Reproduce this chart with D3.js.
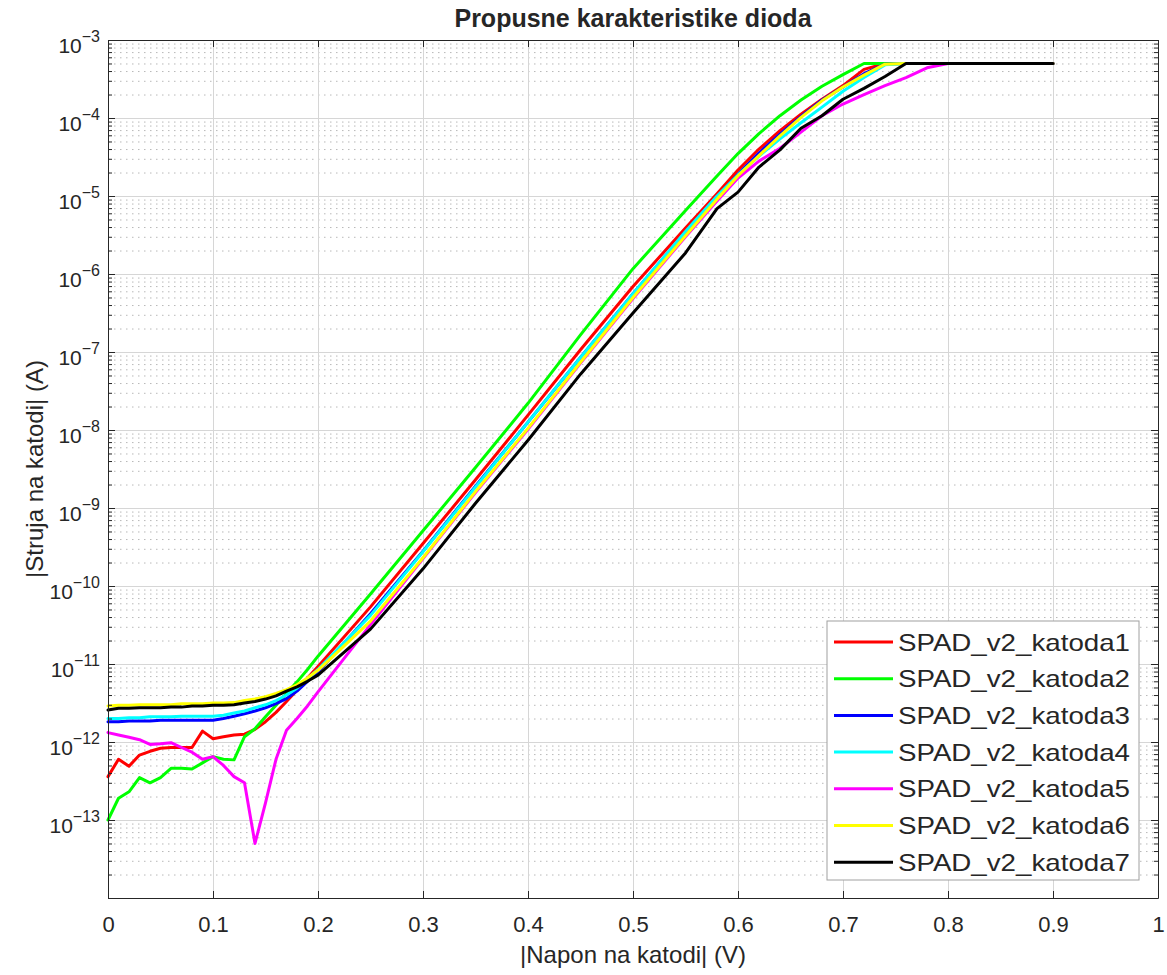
<!DOCTYPE html>
<html><head><meta charset="utf-8">
<script src="https://cdn.jsdelivr.net/npm/d3@7"></script>
<style>
body{margin:0;background:#fff}
text{font-family:"Liberation Sans",Arial,Helvetica,sans-serif;fill:#262626}
</style>
</head><body>
<svg id="chart" width="1167" height="975"></svg>
<script>
// ---- data ----
const voltage = [0,0.01,0.02,0.03,0.04,0.05,0.06,0.07,0.08,0.09,0.10,0.11,0.12,0.13,0.14,0.15,0.16,0.17,0.18,0.19,0.20,
  0.25,0.30,0.35,0.40,0.45,0.50,0.55,0.58,0.60,0.62,0.64,0.66,0.68,0.70,0.72,0.74,0.76,0.78,0.80,0.85,0.90];

const katoda1 = [3.6e-13,6.0e-13,4.9e-13,6.8e-13,7.6e-13,8.3e-13,8.5e-13,8.5e-13,8.5e-13,1.38e-12,1.10e-12,1.17e-12,1.23e-12,1.26e-12,1.45e-12,1.82e-12,2.4e-12,3.3e-12,4.6e-12,6.6e-12,9.3e-12,
  5.4e-11,3.5e-10,2.3e-9,1.55e-8,1.07e-7,6.9e-7,3.9e-6,1.07e-5,2.15e-5,4.0e-5,6.9e-5,1.12e-4,1.74e-4,2.6e-4,4.2e-4,5e-4,5e-4,5e-4,5e-4,5e-4,5e-4];
const katoda2 = [1.0e-13,1.9e-13,2.3e-13,3.5e-13,3.0e-13,3.5e-13,4.6e-13,4.6e-13,4.5e-13,5.4e-13,6.5e-13,6.0e-13,5.9e-13,1.17e-12,1.48e-12,2.1e-12,2.95e-12,4.2e-12,5.9e-12,8.5e-12,1.26e-11,
  7.9e-11,5.1e-10,3.3e-9,2.2e-8,1.66e-7,1.17e-6,6.5e-6,1.8e-5,3.5e-5,6.3e-5,1.07e-4,1.70e-4,2.55e-4,3.6e-4,5e-4,5e-4,5e-4,5e-4,5e-4,5e-4,5e-4];
const katoda3 = [1.82e-12,1.82e-12,1.86e-12,1.86e-12,1.86e-12,1.9e-12,1.9e-12,1.9e-12,1.9e-12,1.9e-12,1.9e-12,2.0e-12,2.14e-12,2.3e-12,2.5e-12,2.75e-12,3.1e-12,3.6e-12,4.5e-12,6.0e-12,7.9e-12,
  4.4e-11,2.8e-10,1.9e-9,1.26e-8,8.5e-8,5.6e-7,3.4e-6,9.5e-6,1.9e-5,3.55e-5,6.2e-5,1.05e-4,1.7e-4,2.5e-4,3.7e-4,4.9e-4,5e-4,5e-4,5e-4,5e-4,5e-4];
const katoda4 = [2.0e-12,2.0e-12,2.04e-12,2.04e-12,2.1e-12,2.1e-12,2.1e-12,2.14e-12,2.14e-12,2.14e-12,2.14e-12,2.2e-12,2.35e-12,2.5e-12,2.75e-12,3.0e-12,3.4e-12,4.0e-12,4.9e-12,6.5e-12,8.5e-12,
  4.2e-11,2.75e-10,1.86e-9,1.26e-8,8.5e-8,5.6e-7,3.5e-6,1.0e-5,1.86e-5,3.25e-5,5.4e-5,8.7e-5,1.38e-4,2.2e-4,3.3e-4,4.8e-4,5e-4,5e-4,5e-4,5e-4,5e-4];
const katoda5 = [1.32e-12,1.23e-12,1.15e-12,1.07e-12,9.3e-13,9.5e-13,9.8e-13,8.5e-13,7.4e-13,6.0e-13,6.5e-13,5.0e-13,3.6e-13,3.0e-13,5.0e-14,1.66e-13,6.0e-13,1.41e-12,2.0e-12,2.9e-12,4.4e-12,
  3.2e-11,2.25e-10,1.58e-9,1.02e-8,7.2e-8,4.85e-7,3.0e-6,8.6e-6,1.7e-5,2.8e-5,4.1e-5,6.6e-5,1.07e-4,1.51e-4,2.0e-4,2.6e-4,3.3e-4,4.4e-4,5e-4,5e-4,5e-4];
const katoda6 = [2.9e-12,2.95e-12,2.95e-12,3.0e-12,3.0e-12,3.0e-12,3.0e-12,3.1e-12,3.1e-12,3.1e-12,3.16e-12,3.16e-12,3.2e-12,3.4e-12,3.55e-12,3.8e-12,4.2e-12,4.7e-12,5.4e-12,6.6e-12,8.3e-12,
  3.55e-11,2.3e-10,1.62e-9,1.05e-8,7.4e-8,5.0e-7,3.1e-6,9.1e-6,1.82e-5,3.3e-5,5.9e-5,1.02e-4,1.66e-4,2.5e-4,3.55e-4,4.9e-4,5e-4,5e-4,5e-4,5e-4,5e-4];
const katoda7 = [2.57e-12,2.7e-12,2.7e-12,2.75e-12,2.75e-12,2.75e-12,2.8e-12,2.8e-12,2.9e-12,2.9e-12,2.95e-12,2.95e-12,3.0e-12,3.16e-12,3.3e-12,3.55e-12,3.9e-12,4.5e-12,5.1e-12,6.0e-12,7.2e-12,
  2.8e-11,1.66e-10,1.15e-9,7.4e-9,5.2e-8,3.16e-7,1.86e-6,6.9e-6,1.12e-5,2.35e-5,3.9e-5,7.4e-5,1.07e-4,1.74e-4,2.4e-4,3.4e-4,5e-4,5e-4,5e-4,5e-4,5e-4];

const seriesNames = ["SPAD_v2_katoda1","SPAD_v2_katoda2","SPAD_v2_katoda3","SPAD_v2_katoda4","SPAD_v2_katoda5","SPAD_v2_katoda6","SPAD_v2_katoda7"];
const seriesValues = [katoda1,katoda2,katoda3,katoda4,katoda5,katoda6,katoda7];
const seriesColors = ["#ff0000","#00ff00","#0000ff","#00ffff","#ff00ff","#ffff00","#000000"];

const xTicks = [0,0.1,0.2,0.3,0.4,0.5,0.6,0.7,0.8,0.9,1];
const xTickLabels = ["0","0.1","0.2","0.3","0.4","0.5","0.6","0.7","0.8","0.9","1"];
const yTickExponents = [-3,-4,-5,-6,-7,-8,-9,-10,-11,-12,-13];

const titleText = "Propusne karakteristike dioda";
const xLabel = "|Napon na katodi| (V)";
const yLabel = "|Struja na katodi| (A)";

// ---- layout ----
const W = 1167, H = 975;
const L = 108, R = 1158, T = 40, B = 898;
const x = d3.scaleLinear().domain([0, 1]).range([L, R]);
const y = d3.scaleLog().domain([1e-14, 1e-3]).range([B, T]);

const svg = d3.select("#chart");
svg.append("rect").attr("width", W).attr("height", H).attr("fill", "#fff");

const majorY = d3.range(-14, -2).map(e => Math.pow(10, e));
const minorY = [];
d3.range(-14, -3).forEach(e => { for (let k = 2; k <= 9; k++) minorY.push(k * Math.pow(10, e)); });

// grid
const grid = svg.append("g");
grid.append("g").attr("transform", `translate(${L},0)`)
  .call(d3.axisLeft(y).tickValues(minorY).tickSize(-(R - L)).tickFormat(""))
  .call(g => g.select(".domain").remove())
  .selectAll("line").attr("stroke", "#b8b8b8").attr("stroke-width", 1).attr("stroke-dasharray", "1.5,4.5");
grid.append("g").attr("transform", `translate(${L},0)`)
  .call(d3.axisLeft(y).tickValues(majorY).tickSize(-(R - L)).tickFormat(""))
  .call(g => g.select(".domain").remove())
  .selectAll("line").attr("stroke", "#d6d6d6").attr("stroke-width", 1);
grid.append("g").attr("transform", `translate(0,${B})`)
  .call(d3.axisBottom(x).tickValues(xTicks).tickSize(-(B - T)).tickFormat(""))
  .call(g => g.select(".domain").remove())
  .selectAll("line").attr("stroke", "#d6d6d6").attr("stroke-width", 1);

// curves
const line = d3.line().x((d, i) => x(voltage[i])).y(d => y(d));
seriesValues.forEach((vals, s) => {
  svg.append("path").datum(vals)
    .attr("fill", "none").attr("stroke", seriesColors[s]).attr("stroke-width", 3)
    .attr("stroke-linejoin", "round").attr("stroke-linecap", "round")
    .attr("d", line);
});

// axes (ticks inward)
const axisColor = "#262626";
function styleAxis(g) {
  g.select(".domain").attr("stroke", axisColor);
  g.selectAll(".tick line").attr("stroke", axisColor);
}
svg.append("g").attr("transform", `translate(0,${B})`)
  .call(d3.axisBottom(x).tickValues(xTicks).tickSize(-7).tickSizeOuter(0).tickPadding(18)
    .tickFormat((d, i) => xTickLabels[i]))
  .call(styleAxis)
  .call(g => g.selectAll("text").attr("font-size", 22).attr("fill", axisColor)
    .attr("font-family", '"Liberation Sans",Arial,sans-serif'));
svg.append("g").attr("transform", `translate(0,${T})`)
  .call(d3.axisTop(x).tickValues(xTicks).tickSize(-7).tickSizeOuter(0).tickFormat(""))
  .call(styleAxis);
svg.append("g").attr("transform", `translate(${L},0)`)
  .call(d3.axisLeft(y).tickValues(majorY).tickSize(-7).tickSizeOuter(0).tickFormat(""))
  .call(styleAxis);
svg.append("g").attr("transform", `translate(${L},0)`)
  .call(d3.axisLeft(y).tickValues(minorY).tickSize(-4).tickSizeOuter(0).tickFormat(""))
  .call(g => g.select(".domain").remove())
  .call(styleAxis);
svg.append("g").attr("transform", `translate(${R},0)`)
  .call(d3.axisRight(y).tickValues(majorY).tickSize(-7).tickSizeOuter(0).tickFormat(""))
  .call(styleAxis);
svg.append("g").attr("transform", `translate(${R},0)`)
  .call(d3.axisRight(y).tickValues(minorY).tickSize(-4).tickSizeOuter(0).tickFormat(""))
  .call(g => g.select(".domain").remove())
  .call(styleAxis);

// y tick labels with superscripts
const yl = svg.append("g");
yTickExponents.forEach(e => {
  const t = yl.append("text").attr("x", L - 8).attr("y", y(Math.pow(10, e)) + 13)
    .attr("text-anchor", "end").attr("font-size", 21);
  t.append("tspan").text("10");
  t.append("tspan").attr("font-size", 16).attr("dy", -11).text("\u2212" + Math.abs(e));
});

// titles
svg.append("text").attr("x", (L + R) / 2).attr("y", 27).attr("text-anchor", "middle")
  .attr("font-size", 25).attr("font-weight", "bold").attr("fill", "#000").text(titleText);
svg.append("text").attr("x", (L + R) / 2).attr("y", 963).attr("text-anchor", "middle")
  .attr("font-size", 24).text(xLabel);
svg.append("text").attr("transform", `translate(43,${(T + B) / 2}) rotate(-90)`).attr("text-anchor", "middle")
  .attr("font-size", 24).text(yLabel);

// legend
const lg = svg.append("g");
lg.append("rect").attr("x", 827).attr("y", 621).attr("width", 312).attr("height", 259)
  .attr("fill", "#fff").attr("stroke", "#a0a0a0").attr("stroke-width", 1);
seriesNames.forEach((n, i) => {
  const cy = 642 + i * 36.7;
  lg.append("line").attr("x1", 834).attr("x2", 893).attr("y1", cy).attr("y2", cy)
    .attr("stroke", seriesColors[i]).attr("stroke-width", 3);
  lg.append("text").attr("x", 898).attr("y", cy + 8.5).attr("font-size", 24).attr("fill", "#000")
    .attr("textLength", 232).attr("lengthAdjust", "spacingAndGlyphs").text(n);
});
</script>
</body></html>
